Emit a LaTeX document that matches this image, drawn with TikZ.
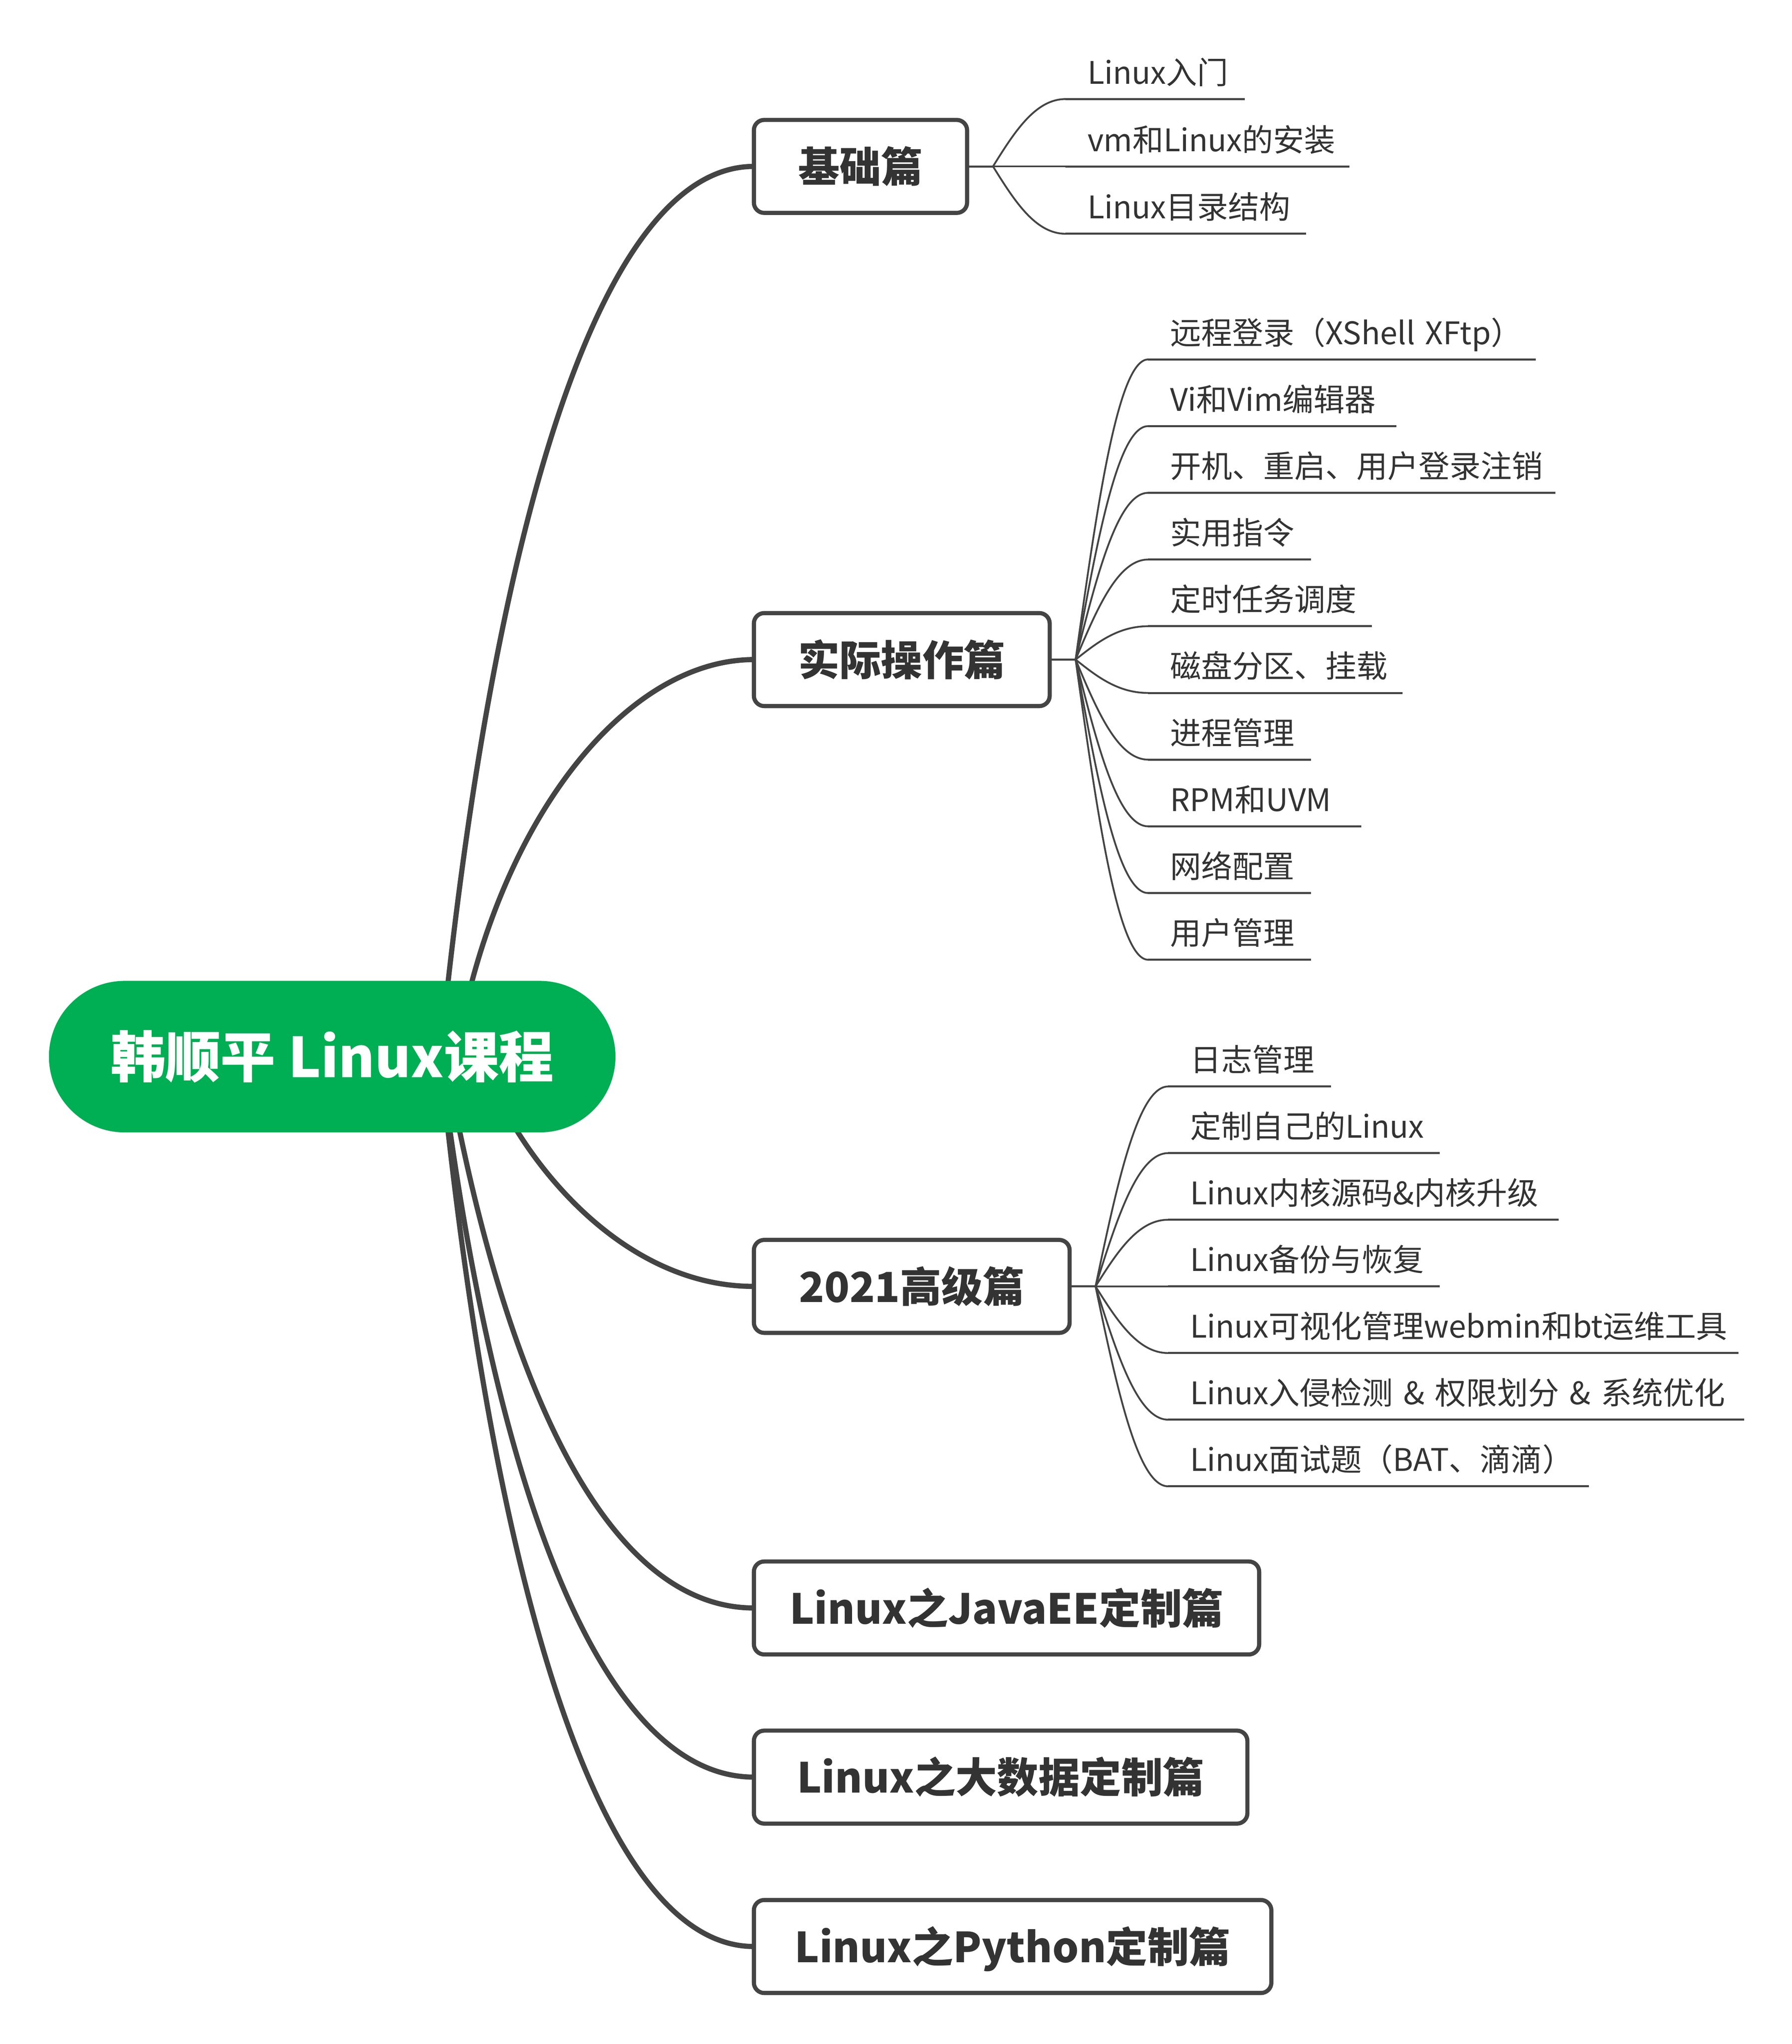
\documentclass[tikz,border=0pt]{standalone}
\usepackage{fontspec}
\setmainfont{Noto Sans CJK SC}
\usetikzlibrary{calc}
\definecolor{linegray}{HTML}{444444}
\definecolor{txtgray}{HTML}{333333}
\definecolor{rootgreen}{HTML}{00AE53}
\pgfdeclarelayer{backdrop}
\pgfdeclarelayer{bg}
\pgfsetlayers{backdrop,bg,main}
\begin{document}
\begin{tikzpicture}[x=1pt,y=-1pt,
  rootnode/.style={fill=rootgreen, text=white, rounded corners=58.5pt,
    minimum width=437.6pt, minimum height=117pt, inner sep=0pt, outer sep=0pt,
    font=\fontsize{42.5}{50}\selectfont\bfseries, text height=37.4pt, text depth=5.1pt},
  topicbox/.style={draw=linegray, line width=3.2pt, fill=white, rounded corners=8pt,
    minimum height=71.8pt, inner sep=0pt, outer sep=0pt, anchor=west, text=txtgray,
    font=\fontsize{32}{38}\selectfont\bfseries, text height=28.2pt, text depth=3.8pt},
  leaf/.style={anchor=south west, inner sep=0pt, outer sep=0pt, align=left, text=txtgray,
    font=\fontsize{24}{28}\selectfont, text height=20pt, text depth=11.7pt},
  mainlink/.style={draw=linegray, line width=4pt},
  twig/.style={draw=linegray, line width=1.4pt},
  stub/.style={draw=linegray, line width=1.6pt},
  uline/.style={draw=linegray, line width=1.6pt},
]
\begin{pgfonlayer}{backdrop}
\fill[white] (0,0) rectangle (1384,1578.3);
\end{pgfonlayer}
\useasboundingbox (0,0) rectangle (1384,1578.3);

% root
\node[rootnode] (root) at (256.6,815.9) {韩顺平 Linux课程};

% main topics
\node[topicbox, minimum width=164.7pt] (b1) at (582.3,128.5) {基础篇};
\node[topicbox, minimum width=228.5pt] (b2) at (582.3,509.3) {实际操作篇};
\node[topicbox, minimum width=243.9pt] (b3) at (582.3,993.3) {2021高级篇};
\node[topicbox, minimum width=390.3pt] (b4) at (582.3,1241.6) {Linux之JavaEE定制篇};
\node[topicbox, minimum width=381.2pt] (b5) at (582.3,1372.2) {Linux之大数据定制篇};
\node[topicbox, minimum width=399.7pt] (b6) at (582.3,1503) {Linux之Python定制篇};

% junctions
\coordinate (j1) at ($(b1.east)+(20,0)$);
\coordinate (j2) at ($(b2.east)+(20,0)$);
\coordinate (j3) at ($(b3.east)+(20,0)$);

% children of b1
\node[leaf, text width=138.6pt] (a1) at ($(j1)+(56,-52)$) {\mbox{\hspace*{17pt}Linux入门}};
\node[leaf, text width=219.4pt] (a2) at ($(j1)+(56,0)$) {\mbox{\hspace*{17pt}vm和Linux的安装}};
\node[leaf, text width=185.8pt] (a3) at ($(j1)+(56,52)$) {\mbox{\hspace*{17pt}Linux目录结构}};

% children of b2
\node[leaf, text width=299.5pt] (c1) at ($(j2)+(56,-231.75)$) {\mbox{\hspace*{17pt}远程登录（XShell XFtp）}};
\node[leaf, text width=191.8pt] (c2) at ($(j2)+(56,-180.25)$) {\mbox{\hspace*{17pt}Vi和Vim编辑器}};
\node[leaf, text width=314.6pt] (c3) at ($(j2)+(56,-128.75)$) {\mbox{\hspace*{17pt}开机、重启、用户登录注销}};
\node[leaf, text width=125.7pt] (c4) at ($(j2)+(56,-77.25)$) {\mbox{\hspace*{17pt}实用指令}};
\node[leaf, text width=173pt] (c5) at ($(j2)+(56,-25.75)$) {\mbox{\hspace*{17pt}定时任务调度}};
\node[leaf, text width=196.4pt] (c6) at ($(j2)+(56,25.75)$) {\mbox{\hspace*{17pt}磁盘分区、挂载}};
\node[leaf, text width=125.7pt] (c7) at ($(j2)+(56,77.25)$) {\mbox{\hspace*{17pt}进程管理}};
\node[leaf, text width=164.5pt] (c8) at ($(j2)+(56,128.75)$) {\mbox{\hspace*{17pt}RPM和UVM}};
\node[leaf, text width=125.7pt] (c9) at ($(j2)+(56,180.25)$) {\mbox{\hspace*{17pt}网络配置}};
\node[leaf, text width=125.7pt] (c10) at ($(j2)+(56,231.75)$) {\mbox{\hspace*{17pt}用户管理}};

% children of b3
\node[leaf, text width=126pt] (d1) at ($(j3)+(56,-154.35)$) {\mbox{\hspace*{17pt}日志管理}};
\node[leaf, text width=210pt] (d2) at ($(j3)+(56,-102.9)$) {\mbox{\hspace*{17pt}定制自己的Linux}};
\node[leaf, text width=301.8pt] (d3) at ($(j3)+(56,-51.45)$) {\mbox{\hspace*{17pt}Linux内核源码\&内核升级}};
\node[leaf, text width=210pt] (d4) at ($(j3)+(56,0)$) {\mbox{\hspace*{17pt}Linux备份与恢复}};
\node[leaf, text width=440.6pt] (d5) at ($(j3)+(56,51.45)$) {\mbox{\hspace*{17pt}Linux可视化管理webmin和bt运维工具}};
\node[leaf, text width=445pt] (d6) at ($(j3)+(56,102.9)$) {\mbox{\hspace*{17pt}Linux入侵检测 \& 权限划分 \& 系统优化}};
\node[leaf, text width=325.2pt] (d7) at ($(j3)+(56,154.35)$) {\mbox{\hspace*{17pt}Linux面试题（BAT、滴滴）}};

% connectors from the root (behind the root)
\begin{pgfonlayer}{bg}
\draw[mainlink] ($(root.center)+(83.4,0)$) .. controls +(40,-403.6) and +(-120,0) .. (b1.west);
\draw[mainlink] ($(root.center)+(95.4,0)$) .. controls +(30,-180) and +(-100,0) .. (b2.west);
\draw[mainlink] ($(root.center)+(115.4,0)$) .. controls +(20,64) and +(-110.6,0) .. (b3.west);
\draw[mainlink] ($(root.center)+(87.4,0)$) .. controls +(44,249.8) and +(-115,0) .. (b4.west);
\draw[mainlink] ($(root.center)+(83.4,0)$) .. controls +(40,326.5) and +(-120,0) .. (b5.west);
\draw[mainlink] ($(root.center)+(83.4,0)$) .. controls +(40,403.3) and +(-120,0) .. (b6.west);
\end{pgfonlayer}

% stubs from boxes to junctions
\draw[stub] (b1.east) -- (j1);
\draw[stub] (b2.east) -- (j2);
\draw[stub] (b3.east) -- (j3);

% twigs and underlines
\foreach \n in {a1,a2,a3} {
  \coordinate (p2) at ([xshift=-23.5pt]\n.south west);
  \draw[twig] (j1) .. controls ($(j1)!0.5!(p2)$) and (p2) .. (\n.south west);
  \draw[uline] (\n.south west) -- (\n.south east);
}
\foreach \n in {c1,c2,c3,c4,c5,c6,c7,c8,c9,c10} {
  \coordinate (p2) at ([xshift=-23.5pt]\n.south west);
  \draw[twig] (j2) .. controls ($(j2)!0.5!(p2)$) and (p2) .. (\n.south west);
  \draw[uline] (\n.south west) -- (\n.south east);
}
\foreach \n in {d1,d2,d3,d4,d5,d6,d7} {
  \coordinate (p2) at ([xshift=-23.5pt]\n.south west);
  \draw[twig] (j3) .. controls ($(j3)!0.5!(p2)$) and (p2) .. (\n.south west);
  \draw[uline] (\n.south west) -- (\n.south east);
}
\end{tikzpicture}
\end{document}
